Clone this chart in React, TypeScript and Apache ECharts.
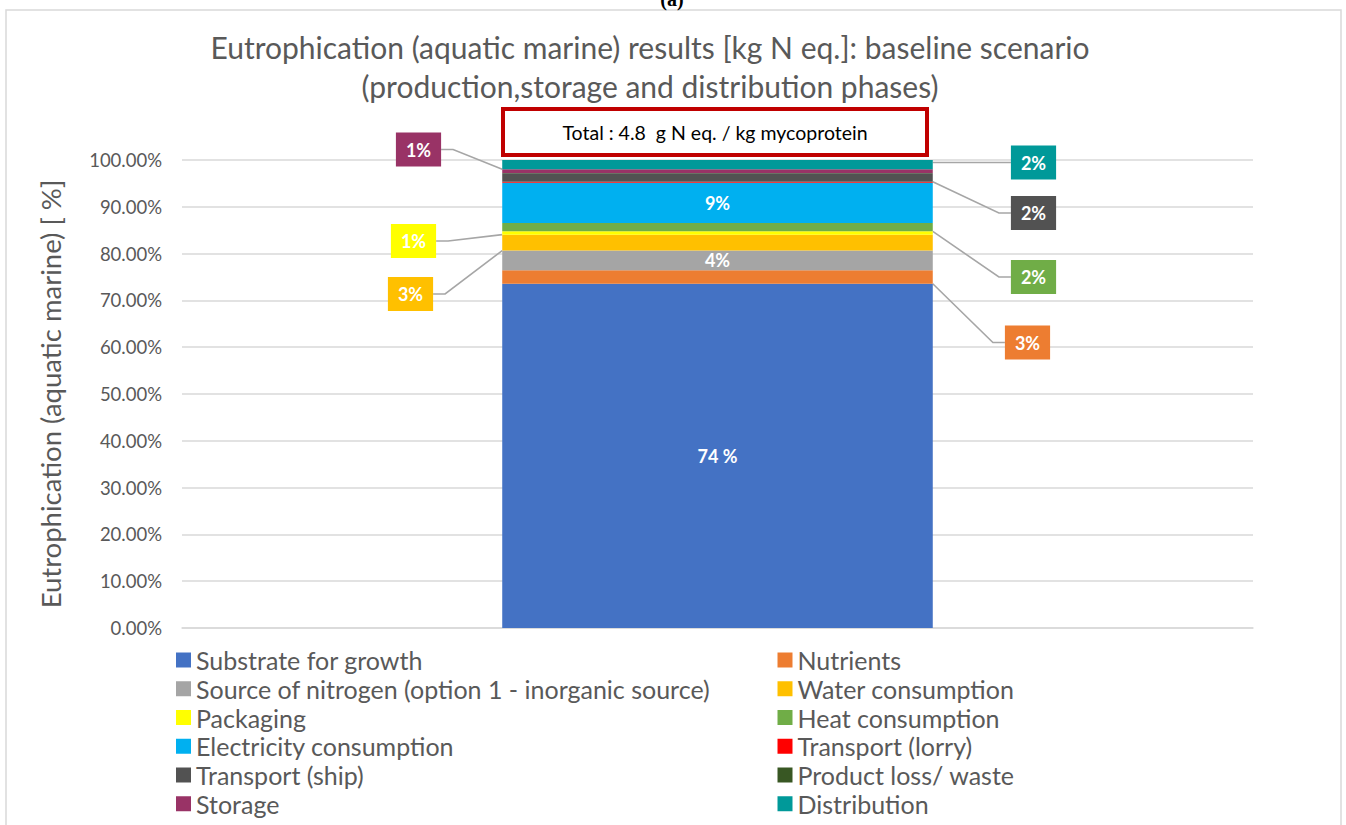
import React, { useEffect, useRef } from "react";
import * as echarts from "echarts";

// Contributions to marine eutrophication, in percent of the total (bottom to top of the stack)
const categories = ["Baseline scenario"];
const seriesNames = [
  "Substrate for growth",
  "Nutrients",
  "Source of nitrogen (option 1 - inorganic source)",
  "Water consumption",
  "Packaging",
  "Heat consumption",
  "Electricity consumption",
  "Transport (lorry)",
  "Transport (ship)",
  "Product loss/ waste",
  "Storage",
  "Distribution",
];
const shares = [73.55, 2.9, 4.2, 3.4, 0.7, 1.8, 8.6, 0.2, 1.8, 0.05, 0.8, 2.0];
const colors = [
  "#4472C4",
  "#ED7D31",
  "#A5A5A5",
  "#FFC000",
  "#FFFF00",
  "#70AD47",
  "#00B0F0",
  "#FF0000",
  "#525252",
  "#385723",
  "#993366",
  "#009999",
];
const yTicks = { min: 0, max: 100, interval: 10 };
const totalValue = 4.8;
const totalUnit = "g N eq. / kg mycoprotein";

// Segments labelled inside the bar
const insideLabelled = ["Substrate for growth", "Source of nitrogen (option 1 - inorganic source)", "Electricity consumption"];
// Segments with a boxed call-out beside the bar: label centre in px
const calloutAt: Record<string, [number, number]> = {
  Storage: [418.5, 149.5],
  Packaging: [413.5, 241],
  "Water consumption": [410.5, 294],
  Distribution: [1033.5, 162.5],
  "Transport (ship)": [1033.5, 213],
  "Heat consumption": [1033.5, 277],
  Nutrients: [1027.5, 342.5],
};

const FONT = "Lato";
const GREY_TEXT = "#595959";
const GRID_GREY = "#D9D9D9";

function pct(v: number, spaced: boolean) {
  return `${Math.round(v)}${spaced ? " %" : "%"}`;
}

function buildOption(): echarts.EChartsOption {
  const series = seriesNames.map((name, i) => {
    const callout = calloutAt[name];
    const inside = insideLabelled.includes(name);
    const base: any = {
      name,
      type: "bar",
      stack: "total",
      barWidth: "40.2%",
      data: [shares[i]],
      itemStyle: { color: colors[i] },
      emphasis: { disabled: true },
    };
    if (inside) {
      base.label = {
        show: true,
        position: "inside",
        color: "#FFFFFF",
        fontWeight: "bold",
        fontSize: 18,
        fontFamily: FONT,
        formatter: (p: any) => pct(p.value, i === 0),
      };
    } else if (callout) {
      base.label = {
        show: true,
        position: "inside",
        color: "#FFFFFF",
        fontWeight: "bold",
        fontSize: 18,
        fontFamily: FONT,
        backgroundColor: colors[i],
        padding: [8, 10, 8, 10],
        formatter: (p: any) => pct(p.value, false),
      };
      base.labelLayout = {
        x: callout[0],
        y: callout[1],
        align: "center",
        verticalAlign: "middle",
        hideOverlap: false,
      };
      base.labelLine = {
        show: true,
        length2: 12,
        minTurnAngle: 20,
        lineStyle: { color: "#A6A6A6", width: 1.6 },
      };
    } else {
      base.label = { show: false };
    }
    return base;
  });

  const legendCommon = {
    orient: "vertical" as const,
    icon: "rect",
    itemWidth: 15,
    itemHeight: 15,
    itemGap: 3.75,
    selectedMode: false,
    textStyle: { fontFamily: FONT, fontSize: 25, color: GREY_TEXT },
  };

  return {
    animation: false,
    backgroundColor: "#FFFFFF",
    textStyle: { fontFamily: FONT },
    title: {
      text:
        "Eutrophication (aquatic marine) results [kg N eq.]: baseline scenario\n(production,storage and distribution phases)",
      left: 645,
      top: 22.5,
      textAlign: "center",
      textStyle: {
        fontFamily: FONT,
        fontSize: 30,
        fontWeight: "normal",
        color: GREY_TEXT,
        lineHeight: 39,
      },
    },
    grid: { left: 182, right: 93, top: 160, bottom: 197, containLabel: false },
    xAxis: {
      type: "category",
      data: categories,
      axisLine: { lineStyle: { color: GRID_GREY, width: 1.5 } },
      axisTick: { show: false },
      axisLabel: { show: false },
    },
    yAxis: {
      type: "value",
      min: yTicks.min,
      max: yTicks.max,
      interval: yTicks.interval,
      name: "Eutrophication (aquatic marine) [ %]",
      nameLocation: "middle",
      nameGap: 118,
      nameTextStyle: { fontFamily: FONT, fontSize: 27.5, color: GREY_TEXT },
      axisLine: { show: false },
      axisTick: { show: false },
      axisLabel: {
        fontFamily: FONT,
        fontSize: 18.5,
        color: GREY_TEXT,
        margin: 20,
        formatter: (v: number) => `${v.toFixed(2)}%`,
      },
      splitLine: { lineStyle: { color: GRID_GREY, width: 1.5 } },
    },
    legend: [
      { ...legendCommon, left: 171, top: 642.5, data: seriesNames.filter((_, i) => i % 2 === 0) },
      { ...legendCommon, left: 772.5, top: 642.5, data: seriesNames.filter((_, i) => i % 2 === 1) },
    ],
    graphic: [
      {
        type: "rect",
        silent: true,
        shape: { x: 6, y: 10, width: 1335, height: 840 },
        style: { fill: "none", stroke: GRID_GREY, lineWidth: 1.5 },
        z: -1,
      },
      {
        type: "text",
        silent: true,
        x: 672,
        y: 9,
        style: {
          text: "(a)",
          font: "bold 20px 'Liberation Serif', serif",
          fill: "#000000",
          align: "center",
          verticalAlign: "bottom",
        },
      },
      {
        type: "rect",
        silent: true,
        shape: { x: 503, y: 109, width: 424, height: 46 },
        style: { fill: "#FFFFFF", stroke: "#C00000", lineWidth: 4 },
        z: 10,
      },
      {
        type: "text",
        silent: true,
        x: 715,
        y: 132,
        z: 11,
        style: {
          text: `Total : ${totalValue}  ${totalUnit}`,
          font: `19.5px ${FONT}`,
          fill: "#000000",
          align: "center",
          verticalAlign: "middle",
        },
      },
    ],
    series,
  };
}

export default function App() {
  const ref = useRef<HTMLDivElement>(null);
  useEffect(() => {
    if (!ref.current) return;
    const chart = echarts.init(ref.current, null, { renderer: "svg" });
    chart.setOption(buildOption());
    return () => chart.dispose();
  }, []);
  return (
    <div
      ref={ref}
      style={{ position: "fixed", left: 0, top: 0, width: 1346, height: 825, background: "#FFFFFF" }}
    />
  );
}
